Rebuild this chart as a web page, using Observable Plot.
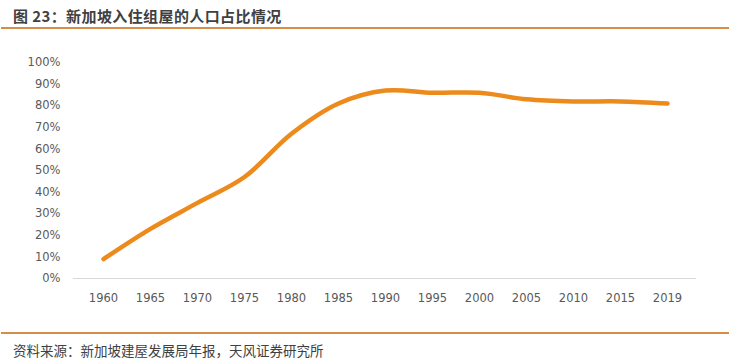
<!DOCTYPE html>
<html>
<head>
<meta charset="utf-8">
<script src="https://cdn.jsdelivr.net/npm/d3@7"></script>
<script src="https://cdn.jsdelivr.net/npm/@observablehq/plot@0.6"></script>
<style>
  html, body { margin: 0; padding: 0; background: #fff; width: 733px; height: 362px; overflow: hidden; }
  #title { position: absolute; left: 13px; top: 5px; font-family: "Noto Sans CJK SC", sans-serif; font-weight: bold; font-size: 15px; color: #404040; letter-spacing: 0.4px; }
  .rule { position: absolute; left: 1px; width: 728px; height: 2px; background: #D58D48; }
  #chart { position: absolute; left: 0; top: 40px; }
  #caption { position: absolute; left: 13px; top: 340px; font-family: "Noto Sans CJK SC", sans-serif; font-size: 13.5px; color: #404040; }
</style>
</head>
<body>
<div id="title">图 23：新加坡入住组屋的人口占比情况</div>
<div class="rule" style="top:27px"></div>
<div id="chart"></div>
<div class="rule" style="top:332px"></div>
<div id="caption">资料来源：新加坡建屋发展局年报，天风证券研究所</div>
<script>
const years = ["1960","1965","1970","1975","1980","1985","1990","1995","2000","2005","2010","2015","2019"];
const share = [9, 23, 35, 47, 67, 81, 87, 86, 86, 83, 82, 82, 81];
const yTicks = [0,10,20,30,40,50,60,70,80,90,100];

const data = years.map((y, i) => ({year: y, value: share[i]}));

const chart = Plot.plot({
  width: 733,
  height: 280,
  marginLeft: 73,
  marginRight: 37,
  marginTop: 22,
  marginBottom: 42,
  style: { fontFamily: "'DejaVu Sans', Verdana, sans-serif", fontSize: "11.5px", color: "#595959", background: "#fff" },
  x: { type: "point", domain: years, padding: 0.5, label: null, tickSize: 0, tickPadding: 15 },
  y: { domain: [0, 100], ticks: yTicks, tickFormat: d => d + "%", label: null, tickSize: 0, tickPadding: 13 },
  marks: [
    Plot.ruleY([0], { stroke: "#d9d9d9", strokeWidth: 1 }),
    Plot.lineY(data, { x: "year", y: "value", stroke: "#EC8A1C", strokeWidth: 4.5, curve: "catmull-rom", strokeLinecap: "round" })
  ]
});
document.getElementById("chart").appendChild(chart);
</script>
</body>
</html>
